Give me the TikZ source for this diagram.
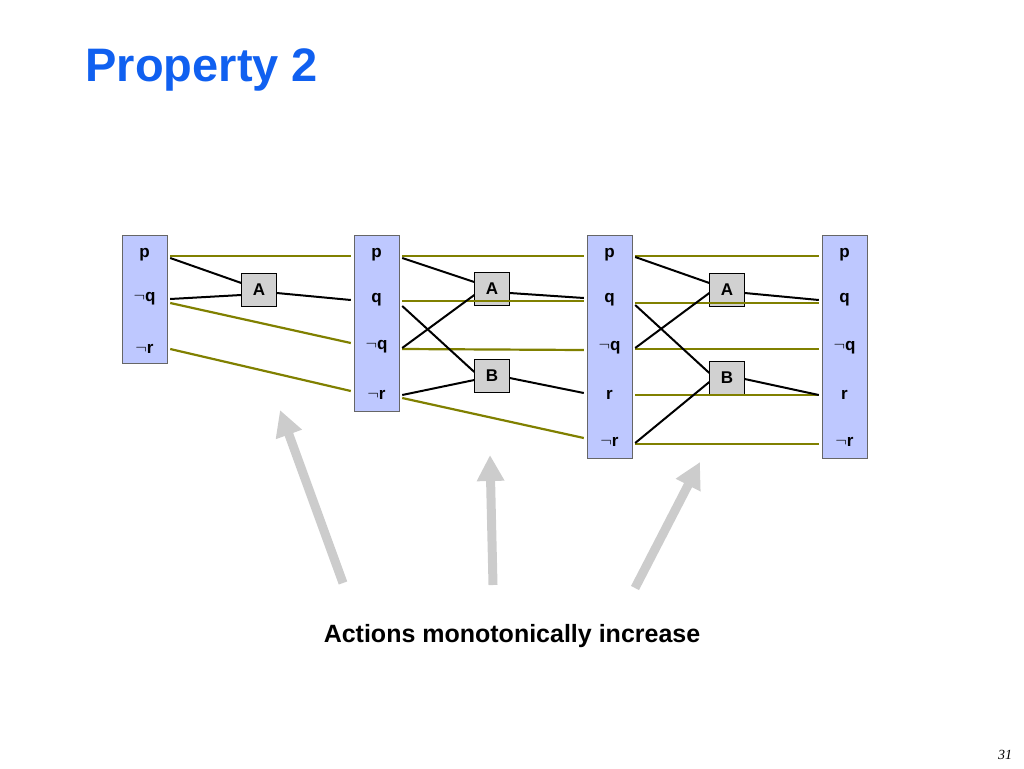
\documentclass[tikz,border=0pt]{standalone}
\usepackage{fontspec}
\setmainfont{Liberation Sans}
\usetikzlibrary{arrows.meta}
\definecolor{lvlfill}{RGB}{190,200,255}
\definecolor{noopc}{RGB}{128,128,0}
\definecolor{titleblue}{RGB}{16,96,240}
\begin{document}
\begin{tikzpicture}[x=1pt,y=-1pt,
    item/.style={inner sep=0pt,minimum width=51pt,minimum height=16pt,font=\fontsize{17}{17}\selectfont\bfseries},
    act/.style={draw=black,fill=black!18,minimum width=35pt,minimum height=33pt,inner sep=0pt,font=\fontsize{17}{17}\selectfont\bfseries},
    noop/.style={noopc,line width=2.2pt},
    link/.style={black,line width=2pt},
    bigarrow/.style={black!20,line width=9pt,-{Triangle[length=26pt,width=26pt]}}]
  \useasboundingbox (0,0) rectangle (1024,768);
  \node[anchor=west,text=titleblue,font=\fontsize{47}{47}\selectfont\bfseries] at (82,70) {Property 2};
  % level boxes
  \fill[lvlfill,draw=black!60] (122,235) rectangle (167,363);
  \fill[lvlfill,draw=black!60] (354,235) rectangle (399,411);
  \fill[lvlfill,draw=black!60] (587,235) rectangle (632,458);
  \fill[lvlfill,draw=black!60] (822,235) rectangle (867,458);
  % level 0
  \node[item] (p0) at (144.5,255) {p};
  \node[item] (nq0) at (144.5,299) {$\neg$q};
  \node[item] (nr0) at (144.5,349) {$\neg$r};
  % level 1
  \node[item] (p1) at (376.5,255) {p};
  \node[item] (q1) at (376.5,300) {q};
  \node[item] (nq1) at (376.5,347) {$\neg$q};
  \node[item] (nr1) at (376.5,395) {$\neg$r};
  % level 2 and 3
  \foreach \l/\x in {2/609.5,3/844.5}{
    \node[item] (p\l) at (\x,255) {p};
    \node[item] (q\l) at (\x,300) {q};
    \node[item] (nq\l) at (\x,348) {$\neg$q};
    \node[item] (r\l) at (\x,395) {r};
    \node[item] (nr\l) at (\x,442) {$\neg$r};
  }
  % actions
  \node[act] (A1) at (259,290) {A};
  \node[act] (A2) at (492,289) {A};
  \node[act] (B2) at (492,376) {B};
  \node[act] (A3) at (727,290) {A};
  \node[act] (B3) at (727,378) {B};
  % no-ops
  \draw[noop] ([yshift=-1pt]p0.east) -- ([yshift=-1pt]p1.west);
  \draw[noop] ([yshift=-4pt]nq0.east) -- ([yshift=4pt]nq1.west);
  \draw[noop] (nr0.east) -- ([yshift=4pt]nr1.west);
  \draw[noop] ([yshift=-1pt]p1.east) -- ([yshift=-1pt]p2.west);
  \draw[noop] ([yshift=-1pt]q1.east) -- ([yshift=-1pt]q2.west);
  \draw[noop] ([yshift=-2pt]nq1.east) -- ([yshift=-2pt]nq2.west);
  \draw[noop] ([yshift=-3pt]nr1.east) -- ([yshift=4pt]nr2.west);
  \draw[noop] ([yshift=-1pt]p2.east) -- ([yshift=-1pt]p3.west);
  \draw[noop] ([yshift=-3pt]q2.east) -- ([yshift=-3pt]q3.west);
  \draw[noop] ([yshift=-1pt]nq2.east) -- ([yshift=-1pt]nq3.west);
  \draw[noop] (r2.east) -- (r3.west);
  \draw[noop] ([yshift=-2pt]nr2.east) -- ([yshift=-2pt]nr3.west);
  % preconditions and effects
  \draw[link] ([yshift=-3pt]p0.east) -- ([yshift=7pt]A1.west);
  \draw[link] (nq0.east) -- ([yshift=-5pt]A1.west);
  \draw[link] ([yshift=-3pt]A1.east) -- (q1.west);
  \draw[link] ([yshift=-3pt]p1.east) -- ([yshift=7pt]A2.west);
  \draw[link] ([yshift=-1pt]nq1.east) -- ([yshift=-6pt]A2.west);
  \draw[link] ([yshift=-6pt]q1.east) -- ([yshift=4pt]B2.west);
  \draw[link] (nr1.east) -- ([yshift=-4pt]B2.west);
  \draw[link] ([yshift=-4pt]A2.east) -- ([yshift=2pt]q2.west);
  \draw[link] ([yshift=-2pt]B2.east) -- ([yshift=2pt]r2.west);
  \draw[link] ([yshift=-2pt]p2.east) -- ([yshift=7pt]A3.west);
  \draw[link] (nq2.east) -- ([yshift=-3pt]A3.west);
  \draw[link] ([yshift=-5pt]q2.east) -- ([yshift=5pt]B3.west);
  \draw[link] ([yshift=-1pt]nr2.east) -- ([yshift=-4pt]B3.west);
  \draw[link] ([yshift=-3pt]A3.east) -- (q3.west);
  \draw[link] ([yshift=-1pt]B3.east) -- (r3.west);
  % arrows and caption
  \coordinate (s1) at (343,583); \coordinate (t1) at (280,410);
  \coordinate (s2) at (493,585); \coordinate (t2) at (490,455);
  \coordinate (s3) at (635,588); \coordinate (t3) at (700,462);
  \draw[bigarrow] (s1) -- (t1);
  \draw[bigarrow] (s2) -- (t2);
  \draw[bigarrow] (s3) -- (t3);
  \node[font=\fontsize{25}{25}\selectfont\bfseries] (cap) at (512,636) {Actions monotonically increase};
  \node[font=\fontsize{14}{14}\selectfont\itshape] (pg) at (1005,755) {\fontspec{Liberation Serif}31};
\end{tikzpicture}
\end{document}
